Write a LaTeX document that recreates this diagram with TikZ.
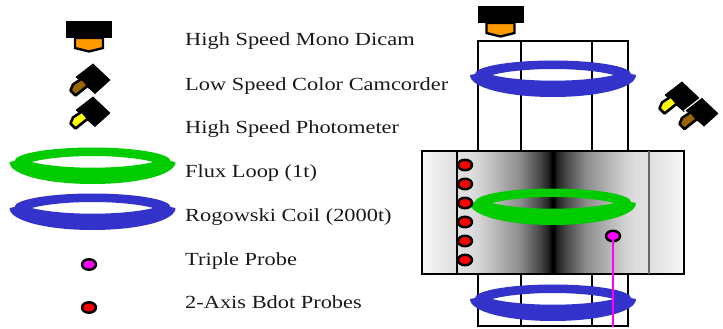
\documentclass[tikz,border=0pt]{standalone}
\usepackage{fontspec}
\setmainfont{Liberation Serif}
\usetikzlibrary{calc,shapes.geometric}
\definecolor{ringblue}{RGB}{51,51,204}
\definecolor{ringgreen}{RGB}{0,204,0}
\definecolor{lensorange}{RGB}{255,153,0}
\definecolor{lensbrown}{RGB}{153,102,0}
\definecolor{lensyellow}{RGB}{255,255,0}
\definecolor{probemagenta}{RGB}{255,0,255}
\definecolor{probered}{RGB}{255,0,0}
\pgfdeclarehorizontalshading{chambershade}{100bp}{
 color(0bp)=(black!12); color(25bp)=(black!12); color(28.4bp)=(black!13); color(31bp)=(black!17); color(41.4bp)=(black!45);
 color(46.6bp)=(black!72); color(48.9bp)=(black!88); color(49.7bp)=(black); color(50.3bp)=(black); color(50.9bp)=(black!88); color(53.4bp)=(black!72);
 color(58.6bp)=(black!45); color(69bp)=(black!17); color(71.6bp)=(black!13); color(75bp)=(black!12); color(100bp)=(black!12)}
\tikzset{
 x=1pt,y=-1pt,
 legend/.style={anchor=base west,inner sep=0pt,font=\fontsize{18.5}{20}\selectfont,xscale=1.21,text=black!90},
 wall/.style={draw=black,line width=2.4pt},
 probe/.style={ellipse,draw=black,line width=2.4pt,minimum width=14pt,minimum height=10.5pt,inner sep=0pt},
 bdot/.style={probe,fill=probered},
 triple/.style={probe,fill=probemagenta},
 pics/ring/.style={code={
   \fill[#1,even odd rule]
     (-83,1) .. controls (-83,14) and (-45,23) .. (0,23) .. controls (45,23) and (83,14) .. (83,1)
     -- (78,0) arc[start angle=0,end angle=-180,x radius=78,y radius=13.5] -- cycle
     (-61,1) .. controls (-30,-7) and (30,-7) .. (61,1) .. controls (30,8.6) and (-30,8.6) .. (-61,1) -- cycle;
 }},
 pics/topcam/.style={code={
   \fill[black] (-23,-8.5) rectangle (23,8.5);
   \draw[fill=lensorange,line width=2.4pt,line join=miter] (-14,8.5) -- (-14,18.5) -- (0,22) -- (14,18.5) -- (14,8.5) -- cycle;
 }},
 pics/sidecam/.style={code={
   \fill[black] (93,63.5) -- (110.5,80) -- (95,94) -- (75.5,77) -- cycle;
   \draw[fill=#1,line width=2.6pt,line join=round] (70.5,90.5) -- (73,84.5) -- (82,78.5) -- (88,85.5) -- (75.5,95.5) -- cycle;
 }},
 pics/sidecamgap/.style={code={
   \filldraw[black,draw=white,line width=1.1pt] (93,63.5) -- (110.5,80) -- (95,94) -- (75.5,77) -- cycle;
   \draw[fill=#1,line width=2.6pt,line join=round] (70.5,90.5) -- (73,84.5) -- (82,78.5) -- (88,85.5) -- (75.5,95.5) -- cycle;
 }},
}
\begin{document}
\begin{tikzpicture}
\useasboundingbox (0,0) rectangle (723,329);
% tube
\draw[wall] (478,41) rectangle (628,326);
\draw[wall] (521,41) -- (521,326) (592,41) -- (592,326);
% chamber
\fill[left color=black!3,right color=black!13] (422,151) rectangle (457,274);
\fill[left color=black!13,right color=black!3] (649,151) rectangle (684,274);
\shade[shading=chambershade] (457,151) rectangle (649,274);
\draw[wall] (422,151) rectangle (684,274);
\draw[wall] (457,151) -- (457,274);
\draw[line width=2.4pt,black!60] (649,151) -- (649,274);
% legend icons
\pic at (89,29.5) {topcam};
\pic {sidecam=lensbrown};
\pic at (0,33) {sidecam=lensyellow};
\pic at (92.5,161) {ring=ringgreen};
\pic at (92.5,207) {ring=ringblue};
\node[triple] (legtriple) at (89,264.5) {};
\node[bdot] (legbdot) at (89,307.5) {};
% legend text
\node[legend] (t1) at (185,46) {High Speed Mono Dicam};
\node[legend] (t2) at (185,90) {Low Speed Color Camcorder};
\node[legend] (t3) at (185,133) {High Speed Photometer};
\node[legend] (t4) at (185,177) {Flux Loop (1t)};
\node[legend] (t5) at (185,221) {Rogowski Coil (2000t)};
\node[legend] (t6) at (185,265) {Triple Probe};
\node[legend] (t7) at (185,308) {2-Axis Bdot Probes};
% apparatus
\pic at (500.5,14.5) {topcam};
\pic at (553,74) {ring=ringblue};
\pic at (553,202) {ring=ringgreen};
\pic at (553,298) {ring=ringblue};
\pic at (589,18) {sidecam=lensyellow};
\pic at (609,33.5) {sidecamgap=lensbrown};
\foreach \n/\y in {1/165,2/184,3/203,4/222,5/241,6/260}
  \node[bdot] (b\n) at (465,\y) {};
\node[triple] (tp) at (613,236) {};
\coordinate (feed) at (613,327);
\draw[probemagenta,line width=2.8pt] (tp.center) -- (feed);
\end{tikzpicture}
\end{document}
